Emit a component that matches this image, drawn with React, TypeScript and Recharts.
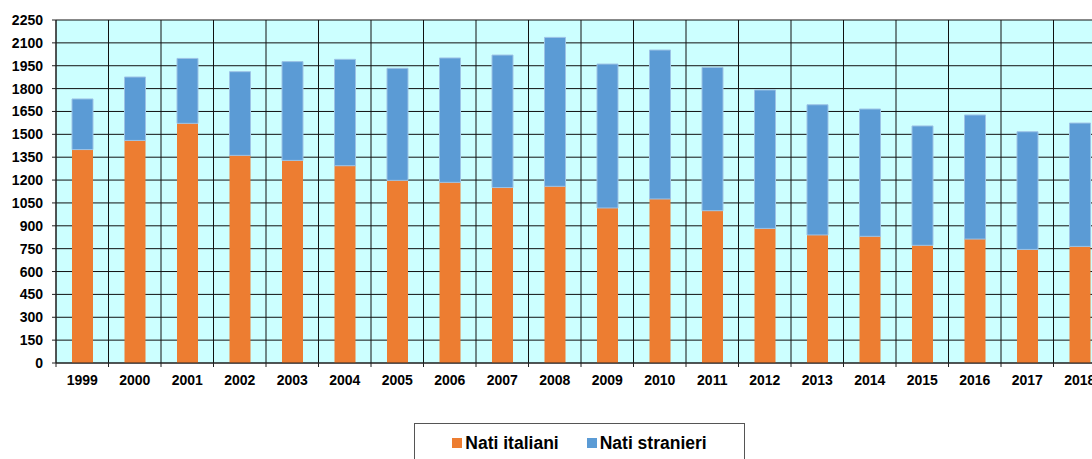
import React from "react";
import { BarChart, Bar, XAxis, YAxis, CartesianGrid, Legend } from "recharts";

const years = ["1999","2000","2001","2002","2003","2004","2005","2006","2007","2008","2009","2010","2011","2012","2013","2014","2015","2016","2017","2018"];
const natiItaliani = [1400,1460,1572,1362,1329,1294,1198,1185,1151,1159,1017,1076,999,883,840,831,772,813,745,765];
const natiStranieri = [332,416,426,549,648,698,735,816,869,977,944,977,940,908,854,835,783,814,772,809];
const yTicks = [0,150,300,450,600,750,900,1050,1200,1350,1500,1650,1800,1950,2100,2250];

const data = years.map((y, i) => ({ year: y, italiani: natiItaliani[i], stranieri: natiStranieri[i] }));

const FONT = "'Liberation Sans', Arial, sans-serif";
const BAND = 1050 / years.length;

const XTick = (props: any) => {
  const { x, y, payload } = props;
  return (
    <g>
      <line x1={x - BAND / 2} x2={x - BAND / 2} y1={355} y2={359} stroke="#222" />
      <text x={x} y={y} dy="0.71em" textAnchor="middle" fontFamily={FONT} fontWeight="bold" fontSize={14} fill="#000">
        {payload.value}
      </text>
    </g>
  );
};

const LegendBox = () => (
  <div
    style={{
      width: 331,
      height: 40,
      border: "1px solid #555",
      boxSizing: "border-box",
      display: "flex",
      justifyContent: "center",
      alignItems: "center",
      gap: 28,
      fontFamily: FONT,
      fontWeight: "bold",
      fontSize: 17.5,
      color: "#000",
      background: "#fff",
    }}
  >
    <span style={{ display: "flex", alignItems: "center" }}>
      <span style={{ width: 10, height: 10, background: "#ED7D31", marginRight: 3, display: "inline-block" }} />
      Nati italiani
    </span>
    <span style={{ display: "flex", alignItems: "center" }}>
      <span style={{ width: 10, height: 10, background: "#5B9BD5", marginRight: 3, display: "inline-block" }} />
      Nati stranieri
    </span>
  </div>
);

export default function App() {
  return (
    <div
      style={{
        width: 1092,
        height: 459,
        paddingLeft: 8,
        paddingTop: 8,
        boxSizing: "border-box",
        overflow: "hidden",
        position: "relative",
        background: "#fff",
      }}
    >
      <style>{"body{margin:0;}"}</style>
      <BarChart
        width={1100}
        height={451}
        data={data}
        margin={{ top: 12, right: 2, bottom: 66, left: 0 }}
        barCategoryGap={0}
      >
        <CartesianGrid
          fill="#CCFFFF"
          stroke="#111"
          strokeWidth={1}
          verticalCoordinatesGenerator={({ offset }: any) =>
            Array.from({ length: years.length + 1 }, (_, i) => offset.left + (i * offset.width) / years.length)
          }
        />
        <XAxis
          dataKey="year"
          axisLine={{ stroke: "#222" }}
          tickLine={false}
          tick={<XTick />}
          tickMargin={12}
          tickSize={0}
          interval={0}
        />
        <YAxis
          width={48}
          domain={[0, 2250]}
          ticks={yTicks}
          interval={0}
          axisLine={{ stroke: "#222" }}
          tickLine={{ stroke: "#222" }}
          tickSize={4}
          tickMargin={9}
          tick={{ fontFamily: FONT, fontWeight: "bold", fontSize: 14, fill: "#000" }}
        />
        <Legend
          layout="horizontal"
          verticalAlign="middle"
          align="center"
          content={<LegendBox />}
          wrapperStyle={{ left: 406, top: 415, width: 331, height: 40 }}
        />
        <Bar dataKey="italiani" stackId="a" fill="#ED7D31" barSize={21} isAnimationActive={false} />
        <Bar dataKey="stranieri" stackId="a" fill="#5B9BD5" stroke="#9DC3E6" strokeWidth={1} barSize={21} isAnimationActive={false} />
      </BarChart>
    </div>
  );
}
